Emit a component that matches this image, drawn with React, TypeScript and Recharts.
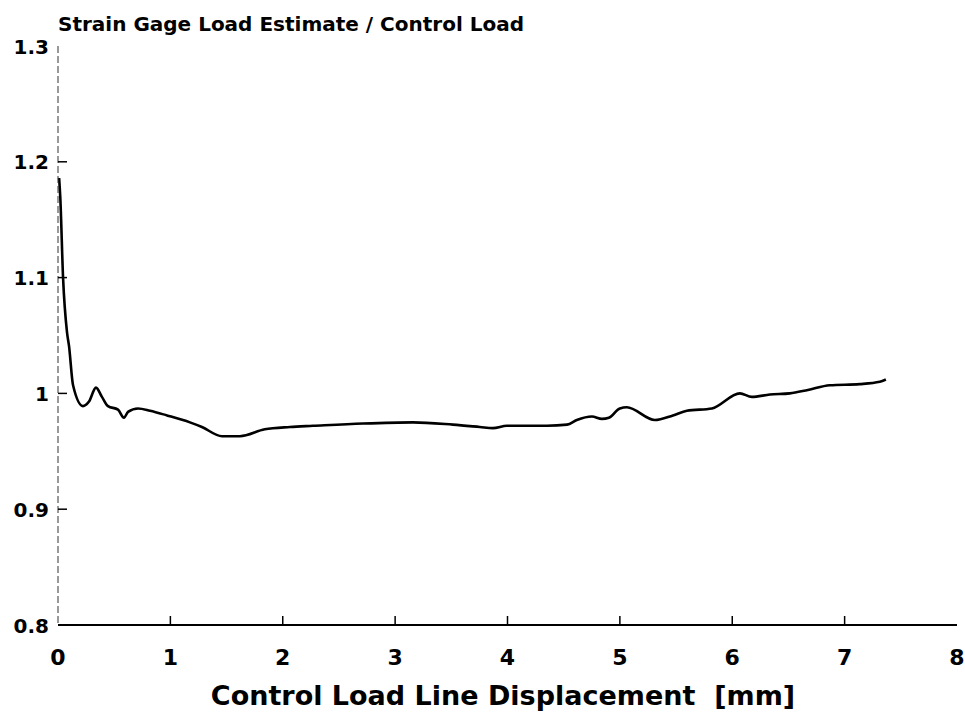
import { LineChart, Line, XAxis, YAxis } from 'recharts'

const displacement = [
  0.01, 0.02, 0.045, 0.08, 0.098, 0.134, 0.222, 0.276, 0.338, 0.391, 0.445, 0.534, 0.587, 0.623,
  0.712, 0.819, 0.97, 1.174, 1.281, 1.459, 1.619, 1.84, 2.064, 2.269, 2.714, 3.158, 3.514, 3.754,
  3.87, 3.995, 4.351, 4.53, 4.617, 4.751, 4.84, 4.902, 5.0, 5.062, 5.311, 5.472, 5.596, 5.819,
  6.068, 6.174, 6.335, 6.512, 6.673, 6.868, 7.135, 7.313, 7.367,
]
const loadRatio = [
  1.186, 1.17, 1.1, 1.053, 1.041, 1.007, 0.989, 0.993, 1.005, 0.997, 0.989, 0.986, 0.979, 0.984,
  0.987, 0.985, 0.981, 0.975, 0.971, 0.963, 0.963, 0.969, 0.971, 0.972, 0.974, 0.975, 0.973, 0.971,
  0.97, 0.972, 0.972, 0.973, 0.977, 0.98, 0.978, 0.979, 0.987, 0.988, 0.977, 0.981, 0.985, 0.987,
  1.0, 0.997, 0.999, 1.0, 1.003, 1.007, 1.008, 1.01, 1.012,
]
const xTicks = [0, 1, 2, 3, 4, 5, 6, 7, 8]
const yTicks = [0.8, 0.9, 1, 1.1, 1.2, 1.3]

const title = 'Strain Gage Load Estimate / Control Load'
const xTitle = 'Control Load Line Displacement  [mm]'

const data = displacement.map((d, i) => ({ x: d, ratio: loadRatio[i] }))

const FONT = '"DejaVu Sans", Verdana, sans-serif'

const XTick = (props: any) => {
  const { x, y, payload } = props
  const v = payload.value
  return (
    <g>
      {v > 0 && v < 8 && <line x1={x} x2={x} y1={y} y2={y - 9} stroke="#000" strokeWidth={1.5} />}
      <text x={x} y={y + 40} textAnchor="middle" fontFamily={FONT} fontWeight="bold" fontSize={22} fill="#000">
        {v}
      </text>
    </g>
  )
}

const YTick = (props: any) => {
  const { x, y, payload } = props
  const v = payload.value
  return (
    <g>
      {v > 0.85 && v < 1.25 && <line x1={x} x2={x + 9} y1={y} y2={y} stroke="#000" strokeWidth={1.5} />}
      <text x={x - 9} y={y + 7.5} textAnchor="end" fontFamily={FONT} fontWeight="bold" fontSize={20} fill="#000">
        {String(v)}
      </text>
    </g>
  )
}

export default function App() {
  return (
    <div style={{ position: 'relative', width: 965, height: 716, background: '#fff' }}>
      <style>{`body{margin:0}`}</style>
      <div
        style={{
          position: 'absolute', left: 58, top: 12, fontFamily: FONT, fontWeight: 'bold',
          fontSize: 20, lineHeight: '24px', color: '#000', whiteSpace: 'pre',
        }}
      >
        {title}
      </div>
      <div
        style={{
          position: 'absolute', left: 0, width: 1006, top: 680, textAlign: 'center', fontFamily: FONT,
          fontWeight: 'bold', fontSize: 27, lineHeight: '32px', color: '#000', whiteSpace: 'pre',
        }}
      >
        {xTitle}
      </div>
      <LineChart width={965} height={716} data={data} margin={{ top: 46, right: 8, bottom: 0, left: 0 }}>
        <XAxis
          dataKey="x"
          type="number"
          domain={[0, 8]}
          ticks={xTicks}
          interval={0}
          height={91}
          tickSize={0}
          tickMargin={0}
          tickLine={false}
          axisLine={{ stroke: '#000', strokeWidth: 2 }}
          tick={<XTick />}
        />
        <XAxis xAxisId="top" orientation="top" type="number" domain={[0, 8]} height={0} tick={false} tickLine={false}
          axisLine={{ stroke: '#000', strokeWidth: 1.2 }} />
        <YAxis
          type="number"
          domain={[0.8, 1.3]}
          ticks={yTicks}
          interval={0}
          width={58}
          tickSize={0}
          tickMargin={0}
          tickLine={false}
          axisLine={{ stroke: '#333', strokeWidth: 1, strokeDasharray: '7 3' }}
          tick={<YTick />}
        />
        <YAxis yAxisId="right" orientation="right" type="number" domain={[0.8, 1.3]} width={0} tick={false} tickLine={false}
          axisLine={{ stroke: '#000', strokeWidth: 2 }} />
        <Line
          type="monotone"
          dataKey="ratio"
          stroke="#000"
          strokeWidth={2.6}
          dot={false}
          isAnimationActive={false}
        />
      </LineChart>
    </div>
  )
}
